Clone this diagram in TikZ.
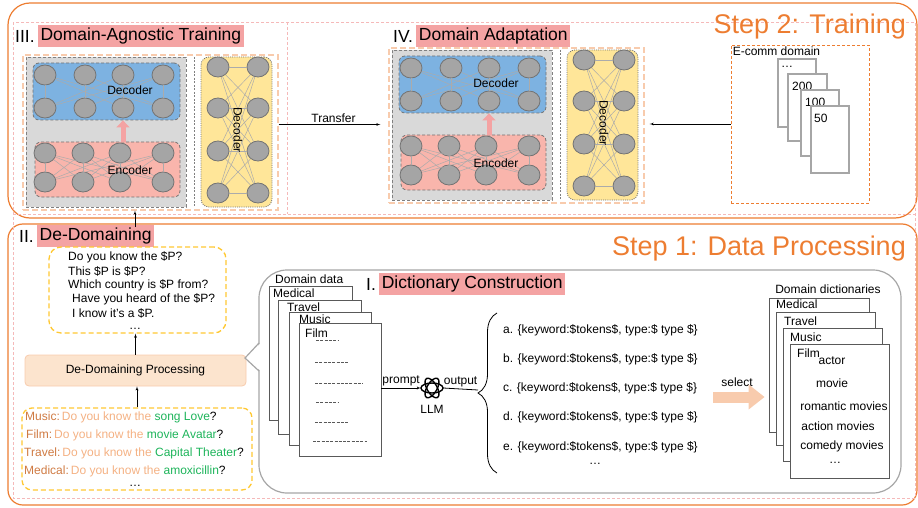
\documentclass[tikz,border=0pt]{standalone}
\usepackage{fontspec}
\setmainfont{Liberation Sans}
\usetikzlibrary{arrows,arrows.meta,positioning,shapes.geometric,decorations.pathreplacing}

\definecolor{stepor}{HTML}{ED7D31}
\definecolor{pinkd}{HTML}{F5B9B9}
\definecolor{hlred}{HTML}{F4A3A3}
\definecolor{lor}{HTML}{F8CBAD}
\definecolor{grayf}{HTML}{D9D9D9}
\definecolor{blued}{HTML}{7DB2E1}
\definecolor{pinke}{HTML}{F9B5AC}
\definecolor{yelf}{HTML}{FFE699}
\definecolor{neuf}{HTML}{A5A5A5}
\definecolor{neud}{HTML}{737373}
\definecolor{wirec}{HTML}{ABABAB}
\definecolor{gold}{HTML}{FFC832}
\definecolor{procf}{HTML}{FCE4CE}
\definecolor{domc}{HTML}{CF7A42}
\definecolor{qtext}{HTML}{F4B183}
\definecolor{entc}{HTML}{1DB45A}
\definecolor{secgray}{HTML}{A6A6A6}
\definecolor{pagec}{HTML}{595959}

% encoder/decoder block and side decoder
\newcommand{\netpair}[1]{%
  \node[agnbox, minimum width=255, minimum height=155] (#1) at (124.5,75.5) {};
  \node[graybox, minimum width=160, minimum height=150] (#1g) at (80,75) {};
  \draw[sepline] (168,0) -- (168,150);
  \node[bluebox, minimum width=147, minimum height=57] (#1d) at (80.5,34.5) {};
  \node[pinkbox, minimum width=145, minimum height=55] (#1e) at (81.5,112.5) {};
  \node[yelbox, minimum width=71, minimum height=150] (#1y) at (210.5,75) {};
  \foreach \x [count=\i] in {19,59,97,137} {
    \node[neuron] (#1dt\i) at (\x,18) {};
    \node[neuron] (#1db\i) at (\x,51) {};
  }
  \foreach \x [count=\i] in {19,57,94,137} {
    \node[neuron] (#1et\i) at (\x,96) {};
    \node[neuron] (#1eb\i) at (\x,125) {};
  }
  \foreach \y [count=\i] in {10,51,94,136} {
    \node[neuron] (#1yl\i) at (192,\y) {};
    \node[neuron] (#1yr\i) at (232,\y) {};
  }
  \foreach \i/\j in {1/1,2/2,3/3,4/4,1/3,1/4,2/4,4/1,4/2,3/1}
    \draw[wire] (#1dt\i) -- (#1db\j);
  \foreach \i in {1,...,4} \foreach \j in {1,...,4} {
    \draw[wire] (#1et\i) -- (#1eb\j);
    \draw[wire] (#1yl\i) -- (#1yr\j);
  }
  \draw[fatarrow] (#1e.north -| #1dt3) -- (#1d.south -| #1dt3);
  \node (#1dl) at (104,33) {Decoder};
  \node (#1el) at (104,113) {Encoder};
  \node[rotate=-90] (#1yt) at (212,73) {Decoder};
}

\begin{document}
\begin{tikzpicture}[>=latex', x=1pt, y=-1pt]
  \tikzstyle{every node}=[font=\fontsize{12}{14}\selectfont, inner sep=2pt]
  \tikzstyle{sect}=[font=\fontsize{17.5}{20}\selectfont, inner sep=2pt]
  \tikzstyle{hl}=[sect, fill=hlred, inner sep=2.5pt]
  \tikzstyle{steplbl}=[font=\fontsize{27}{30}\selectfont, text=stepor, inner sep=0pt]
  \tikzstyle{stepframe}=[draw=stepor, line width=1.2pt]
  \tikzstyle{pinkline}=[draw=pinkd, line width=0.8pt, dash pattern=on 3pt off 2pt]
  \tikzstyle{agnbox}=[draw=lor, line width=1.2pt, dash pattern=on 6pt off 3pt, inner sep=0pt]
  \tikzstyle{graybox}=[fill=grayf, draw=gray, line width=0.8pt, dash pattern=on 3pt off 2pt, inner sep=0pt]
  \tikzstyle{sepline}=[draw=gray, line width=0.8pt, dash pattern=on 2pt off 1.5pt]
  \tikzstyle{bluebox}=[fill=blued, draw=neud, line width=0.8pt, dash pattern=on 3pt off 2pt, rounded corners=6pt, inner sep=0pt]
  \tikzstyle{pinkbox}=[bluebox, fill=pinke]
  \tikzstyle{yelbox}=[fill=yelf, draw=neud, line width=0.8pt, dash pattern=on 1pt off 1.2pt, rounded corners=8pt, inner sep=0pt]
  \tikzstyle{neuron}=[ellipse, fill=neuf, draw=neud, line width=0.8pt, minimum width=22pt, minimum height=20pt, inner sep=0pt]
  \tikzstyle{wire}=[draw=wirec, line width=0.5pt]
  \tikzstyle{fatarrow}=[draw=hlred, line width=5pt, -{Triangle[width=13pt,length=7pt]}]
  \tikzstyle{ecbox}=[draw=stepor, line width=0.9pt, dash pattern=on 3pt off 2pt, inner sep=0pt]
  \tikzstyle{ecpage}=[draw=secgray, line width=1.2pt, fill=white, inner sep=0pt]
  \tikzstyle{goldbox}=[draw=gold, line width=1.3pt, dash pattern=on 5pt off 3pt, rounded corners=12pt, inner sep=0pt]
  \tikzstyle{procbox}=[fill=procf, draw=lor, line width=0.8pt, rounded corners=4pt, inner sep=0pt]
  \tikzstyle{secbox}=[draw=secgray, line width=1.2pt, rounded corners=28pt, inner sep=0pt]
  \tikzstyle{page}=[draw=pagec, line width=0.8pt, fill=white, inner sep=0pt]
  \tikzstyle{dashln}=[draw=pagec, line width=1pt, dash pattern=on 3pt off 1.3pt]
  \tikzstyle{selarrow}=[draw=lor, line width=11pt, -{Triangle[width=24pt,length=16pt]}]

  \useasboundingbox (0,0) rectangle (918,508);

  % frames
  \draw[stepframe, rounded corners=22pt] (8,3) rectangle (917,218);
  \draw[stepframe, rounded corners=15pt] (8,224) rectangle (917,505);
  \draw[pinkline] (13,22) rectangle (915,498);
  \draw[pinkline] (287,22) -- (287,214);
  \draw[pinkline] (13,214) -- (915,214);
  \node[steplbl, anchor=base east] (st2) at (906,34) {Step 2: Training};
  \node[steplbl, anchor=base east] (st1) at (906,255) {Step 1: Data Processing};

  % III and IV
  \node[sect, anchor=west] (n3) at (13,36) {III.};
  \node[hl, right=1pt of n3] (h3) {Domain-Agnostic Training};
  \begin{scope}[shift={(26,57)}]
    \netpair{ag}
  \end{scope}
  \node[sect, anchor=west] (n4) at (391,36) {IV.};
  \node[hl, right=1pt of n4] (h4) {Domain Adaptation};
  \begin{scope}[shift={(392,50)}]
    \netpair{da}
  \end{scope}
  \draw[->, shorten >=8pt] ([yshift=8pt]ag.east) -- node[above] (tr) {Transfer} ([yshift=8pt]ag.east -| da.west);

  % e-comm data
  \node[ecbox, minimum width=138, minimum height=158] (ec) at (800,124) {};
  \node[anchor=north west] (ecl) at (ec.north west) {E-comm domain};
  \node[ecpage, minimum width=38, minimum height=68] (p1) at (797,93) {};
  \node[anchor=west] (p1l) at (779,67) {…};
  \node[ecpage, minimum width=39, minimum height=67] (p2) at (807.5,107.5) {};
  \node[anchor=west] (p2l) at (790,86) {200};
  \node[ecpage, minimum width=38, minimum height=66] (p3) at (820,123) {};
  \node[anchor=west] (p3l) at (803,102) {100};
  \node[ecpage, minimum width=38, minimum height=67] (p4) at (830,139.5) {};
  \node[anchor=west] (p4l) at (812,118) {50};
  \draw[->, shorten >=5pt] (ec.west) -- (ec.west -| da.east);

  % II. De-Domaining
  \node[sect, anchor=west] (n2) at (17,236) {II.};
  \node[hl, right=1pt of n2] (h2) {De-Domaining};
  \coordinate (upc) at (135,227);
  \draw[->] (upc) -- (upc |- ag.south);
  \node[goldbox, minimum width=177, minimum height=86] (qbox) at (137.5,290) {};
  \node[anchor=west] (q1) at (66,257) {Do you know the \$P?};
  \node[anchor=west] (q2) at (66,271) {This \$P is \$P?};
  \node[anchor=west] (q3) at (66,285) {Which country is \$P from?};
  \node[anchor=west] (q4) at (70,299) {Have you heard of the \$P?};
  \node[anchor=west] (q5) at (70,313) {I know it's a \$P.};
  \node[inner sep=0pt] (q6) at (135,329) {…};
  \node[procbox, minimum width=221, minimum height=31] (proc) at (135.5,370.5) {De-Domaining Processing};
  \draw[->] (proc.north) -- (proc.north |- qbox.south);
  \node[goldbox, rounded corners=10pt, minimum width=230, minimum height=82] (dbox) at (137,449) {};
  \node[anchor=west] (s1) at (23,417) {{\color{domc}Music:}\,{\color{qtext}Do you know the }{\color{entc}song Love}?};
  \node[anchor=west] (s2) at (24,435) {{\color{domc}Film:}\,{\color{qtext}Do you know the }{\color{entc}movie Avatar}?};
  \node[anchor=west] (s3) at (22,453) {{\color{domc}Travel:}\,{\color{qtext}Do you know the }{\color{entc}Capital Theater}?};
  \node[anchor=west] (s4) at (22,471) {{\color{domc}Medical:}\,{\color{qtext}Do you know the }{\color{entc}amoxicillin}?};
  \node[inner sep=0pt] (s5) at (135,486) {…};
  \draw[->] (dbox.north) -- (dbox.north |- proc.south);

  % I. Dictionary Construction
  \node[secbox, minimum width=642, minimum height=223] (dict) at (580,381.5) {};
  \fill[white] (261,343) -- (245,358) -- (261,371) -- cycle;
  \draw[draw=secgray, line width=1.2pt] (259,343) -- (245,358) -- (259,371);
  \node[sect, anchor=west] (n1) at (364,284) {I.};
  \node[hl, right=1pt of n1] (h1) {Dictionary Construction};

  \node[anchor=west] (ddl) at (273,279) {Domain data};
  \node[page, minimum width=83, minimum height=134] (med) at (310.5,353) {};
  \node[anchor=west] (medl) at (271,293) {Medical};
  \node[page, minimum width=83, minimum height=134] (trv) at (319.5,367) {};
  \node[anchor=west] (trvl) at (285,307) {Travel};
  \node[page, minimum width=82, minimum height=133] (mus) at (330,378.5) {};
  \node[anchor=west] (musl) at (297,319) {Music};
  \node[page, minimum width=82, minimum height=133] (film) at (340,389.5) {};
  \node[anchor=west] (filml) at (303,333) {Film};
  \foreach \y/\a/\b in {340/316/339, 362/315/348, 383/315/363, 402/316/339, 422/315/348, 441/313/367}
    \draw[dashln] (\a,\y) -- (\b,\y);

  \node[minimum size=22pt, inner sep=0pt] (llm) at (432,388) {};
  \foreach \a in {0,60,120}
    \draw[line width=1.4pt, rotate around={\a:(llm)}] (llm) ellipse (11 and 5);
  \node[below=4pt of llm] (llml) {LLM};
  \draw[->] (film.east |- llm) -- node[above] (pr) {prompt} (llm.west);
  \coordinate (tip) at (478,390);
  \draw[line width=0.8pt] (llm.east) -- node[above] (out) {output} (tip);
  \draw[line width=0.8pt, decorate, decoration={brace, amplitude=19pt}] (497,473) -- (497,313);

  \node[anchor=west] (e1) at (501,330) {a. \{keyword:\$tokens\$, type:\$ type \$\}};
  \node[anchor=west] (e2) at (501,359) {b. \{keyword:\$tokens\$, type:\$ type \$\}};
  \node[anchor=west] (e3) at (501,388) {c. \{keyword:\$tokens\$, type:\$ type \$\}};
  \node[anchor=west] (e4) at (501,417) {d. \{keyword:\$tokens\$, type:\$ type \$\}};
  \node[anchor=west] (e5) at (501,447) {e. \{keyword:\$tokens\$, type:\$ type \$\}};
  \node (e6) at (595,464) {…};

  \node (sell) at (737,382) {select};
  \coordinate (sel) at (713,397);

  \node (dd) at (828,289) {Domain dictionaries};
  \node[page, minimum width=100, minimum height=134] (dmed) at (819,365) {};
  \node[anchor=west] (dmedl) at (774,304) {Medical};
  \node[page, minimum width=99, minimum height=133] (dtrv) at (825.5,378.5) {};
  \node[anchor=west] (dtrvl) at (782,321) {Travel};
  \node[page, minimum width=99, minimum height=133] (dmus) at (832.5,394.5) {};
  \node[anchor=west] (dmusl) at (788,337) {Music};
  \node[page, minimum width=99, minimum height=134] (dfilm) at (839.5,411) {};
  \node[anchor=west] (dfilml) at (795,353) {Film};
  \node (w1) at (832,361) {actor};
  \node (w2) at (832,383) {movie};
  \node (w3) at (844,406) {romantic movies};
  \node (w4) at (838,426) {action movies};
  \node (w5) at (842,446) {comedy movies};
  \node (w6) at (835,463) {…};
  \draw[selarrow, shorten >=4pt] (sel) -- (sel -| dmed.west);
\end{tikzpicture}
\end{document}
